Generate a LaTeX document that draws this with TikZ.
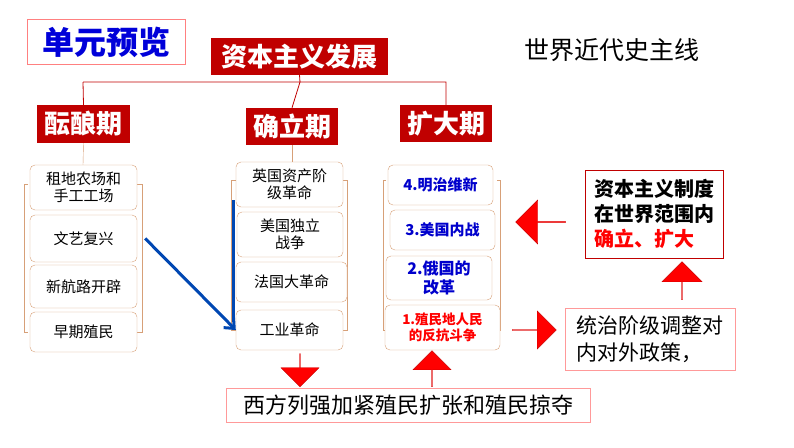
\documentclass[tikz,border=0pt]{standalone}
\usepackage{fontspec}
\setmainfont{Noto Sans CJK SC}
\usetikzlibrary{shapes.arrows,arrows.meta}
\definecolor{dred}{RGB}{192,0,0}
\definecolor{tan}{RGB}{215,160,120}
\begin{document}
\begin{tikzpicture}[x=1pt,y=-1pt,
 hd/.style={fill=dred,text=white,font=\fontsize{26}{28}\selectfont\bfseries,inner sep=0pt},
 item/.style={draw=tan,rounded corners=5pt,fill=white,align=center,font=\fontsize{15}{17}\selectfont,inner sep=0pt},
 rarr/.style={single arrow,fill=red,draw=red!80!black,minimum height=#1,single arrow head extend=8pt,minimum width=38pt,inner sep=0pt},
 brk/.style={draw=tan,thin}]
\useasboundingbox (0,0) rectangle (794,447);
\node[draw=red!50,minimum width=158,minimum height=45,inner sep=0pt,font=\fontsize{32}{34}\selectfont\bfseries,text=blue!85!black] (t) at (106,42) {单元预览};
\node[hd,minimum width=177,minimum height=37] (root) at (299.5,56.5) {资本主义发展};
\node[font=\fontsize{25}{26}\selectfont] (ml) at (612,50) {世界近代史主线};
\node[hd,minimum width=93,minimum height=38] (h1) at (83.5,124) {酝酿期};
\node[hd,minimum width=92,minimum height=37] (h2) at (292,126.5) {确立期};
\node[hd,minimum width=92,minimum height=37] (h3) at (446,123.5) {扩大期};
\draw[dred,thick] (root.south) -- (300,82) coordinate (c) (83,82) -- (h1.north) (c) -- (h2.north) (83,82) -- (446,82) -- (h3.north);
\draw[brk] (h1.south) -- (83,165);
\draw[brk] (h2.south) -- (292,162);
\draw[brk] (28,184)--(24,184)--(24,332)--(28,332) (137,184)--(142,184)--(142,332)--(137,332);
\draw[brk] (236,180)--(231,180)--(231,330)--(236,330) (343,180)--(347,180)--(347,330)--(343,330);
\draw[brk] (386,180)--(383,180)--(383,330)--(386,330) (497,180)--(500,180)--(500,330)--(497,330);
\node[item,minimum width=107,minimum height=45] (a1) at (83.5,187.5) {租地农场和\\手工工场};
\node[item,minimum width=107,minimum height=47] (a2) at (83.5,238.5) {文艺复兴};
\node[item,minimum width=107,minimum height=43] (a3) at (83.5,286.5) {新航路开辟};
\node[item,minimum width=107,minimum height=40] (a4) at (83.5,332) {早期殖民};
\node[item,minimum width=107,minimum height=45] (b1) at (289.5,184.5) {英国资产阶\\级革命};
\node[item,minimum width=106,minimum height=45] (b2) at (290,234.5) {美国独立\\战争};
\node[item,minimum width=111,minimum height=40] (b3) at (291.5,282) {法国大革命};
\node[item,minimum width=107,minimum height=40] (b4) at (289.5,330) {工业革命};
\node[item,minimum width=105,minimum height=40,text=blue!80!black,font=\fontsize{15}{17}\selectfont\bfseries] (d4) at (440.5,185) {4.明治维新};
\node[item,minimum width=105,minimum height=40,text=blue!80!black,font=\fontsize{15}{17}\selectfont\bfseries] (d3) at (442.5,230) {3.美国内战};
\node[item,minimum width=106,minimum height=44,text=blue!80!black,font=\fontsize{16}{19}\selectfont\bfseries] (d2) at (439,278) {2.俄国的\\改革};
\node[item,minimum width=115,minimum height=45,text=red,font=\fontsize{13.5}{16}\selectfont\bfseries] (d1) at (442.5,327.5) {1.殖民地人民\\的反抗斗争};
\draw[blue!60!cyan!70!black,line width=3pt,-{Straight Barb[length=8pt,width=14pt]}] (a2.east) ++(8,0) -- (b4.west);
\draw[blue!60!cyan!70!black,line width=3pt] (233,200) -- (233,322);
\node[draw=red!40,minimum width=364,minimum height=34,inner sep=0pt,font=\fontsize{22}{24}\selectfont] (bot) at (408,405) {西方列强加紧殖民扩张和殖民掠夺};
\node[draw=dred,minimum width=138,minimum height=88,inner sep=4pt,align=left,font=\fontsize{20}{25}\selectfont\bfseries] (cap) at (654,214) {资本主义制度\\在世界范围内\\{\color{red}确立、扩大}};
\node[draw=red!40,minimum width=170,minimum height=62,inner sep=4pt,align=left,font=\fontsize{21}{27}\selectfont] (rule) at (650,339) {统治阶级调整对\\内对外政策，};
\node[rarr=33pt,shape border rotate=270] (ar1) at (300,370) {};
\node[rarr=36pt,shape border rotate=90] (ar2) at (432,369) {};
\node[rarr=50pt,shape border rotate=180,minimum width=44pt] (ar3) at (541,222) {};
\node[rarr=44pt] (ar4) at (534,330) {};
\node[rarr=38pt,shape border rotate=90,minimum width=40pt] (ar5) at (682,281) {};
\end{tikzpicture}
\end{document}
